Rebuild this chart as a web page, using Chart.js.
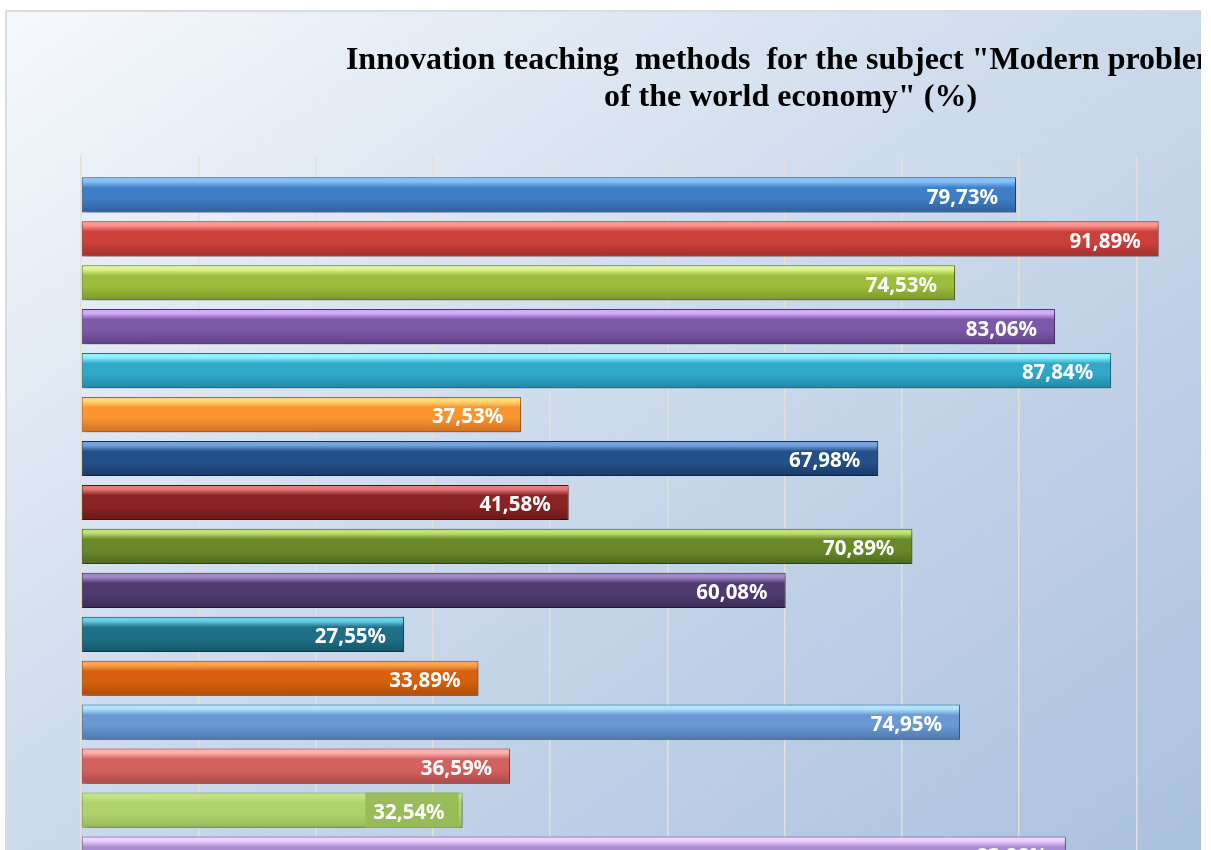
<!DOCTYPE html>
<html>
<head>
<meta charset="utf-8">
<script src="https://cdn.jsdelivr.net/npm/chart.js@4/dist/chart.umd.min.js"></script>
<style>
  html, body { margin: 0; padding: 0; background: #fff; overflow: hidden; }
  #panel {
    position: absolute; left: 5px; top: 10px; width: 1196px; height: 840px;
    border-top: 2px solid #dcdcdc; border-left: 2px solid #dcdcdc;
    box-sizing: border-box; overflow: hidden;
    background: linear-gradient(to bottom right, #f6f9fc 0%, #cbd9eb 50%, #aac1de 100%);
  }
  #wrap { position: absolute; left: -2px; top: -2px; width: 1495px; height: 890px; }
</style>
</head>
<body>
<div id="panel"><div id="wrap"><canvas id="chart"></canvas></div></div>
<script>
const categories = ['1', '2', '3', '4', '5', '6', '7', '8', '9', '10', '11', '12', '13', '14', '15', '16'];
const values = [79.73, 91.89, 74.53, 83.06, 87.84, 37.53, 67.98, 41.58, 70.89, 60.08, 27.55, 33.89, 74.95, 36.59, 32.54, 83.98];
const labels = ['79,73%', '91,89%', '74,53%', '83,06%', '87,84%', '37,53%', '67,98%', '41,58%', '70,89%', '60,08%', '27,55%', '33,89%', '74,95%', '36,59%', '32,54%', '83,98%'];
// highlight, base, shade, border for each bar
const barTops = ['#86c2f8', '#ff9490', '#def590', '#d2acf8', '#8ef2ff', '#ffd878', '#74a4e0', '#e87a7a', '#c0e078', '#a288c8', '#6ad0e8', '#ffa454', '#b0e4ff', '#ffb0ae', '#c2e284', '#f0d2ff'];
const barMids = ['#3f7dc6', '#cc403c', '#9dbd3c', '#7c58a8', '#30a8c8', '#f8952e', '#24508a', '#8a2424', '#6a8a2a', '#503a70', '#1e7088', '#d8600c', '#6a98d2', '#d26260', '#b0d26c', '#aa8cd2'];
const barBottoms = ['#2f609c', '#a0302c', '#7a982a', '#5e4088', '#2088a6', '#d07020', '#1a3a66', '#6a1818', '#4f6820', '#3c2c58', '#155868', '#b04c08', '#4e78ae', '#b04846', '#98b85a', '#8a6ab0'];
const barBorders = ['#2a5384', '#8a2a26', '#6a8424', '#4e3672', '#1a7290', '#b86418', '#15305a', '#561414', '#43581a', '#30244a', '#104a58', '#9a4206', '#42689a', '#9a3e3c', '#88a64e', '#7a5ea0'];
const labelBoxes = [null, null, null, null, null, null, null, null, null, null, null, null, null, null, 'rgba(150,186,86,0.9)', null];

function barFill(ctx) {
  const chart = ctx.chart;
  const i = ctx.dataIndex;
  if (!chart.chartArea || !chart.scales.y) return barMids[i];
  const y = chart.scales.y.getPixelForValue(i);
  const h = chart.scales.y.height / categories.length * 0.8;
  const g = chart.ctx.createLinearGradient(0, y - h / 2, 0, y + h / 2);
  g.addColorStop(0, barTops[i]);
  g.addColorStop(0.12, barTops[i]);
  g.addColorStop(0.3, barMids[i]);
  g.addColorStop(0.6, barMids[i]);
  g.addColorStop(1, barBottoms[i]);
  return g;
}

const shadowPlugin = {
  id: 'shadow',
  beforeDatasetDraw(chart) {
    const c = chart.ctx;
    c.save();
    c.shadowColor = 'rgba(0,0,0,0.4)';
    c.shadowBlur = 5;
    c.shadowOffsetX = 2;
    c.shadowOffsetY = 3;
  },
  afterDatasetDraw(chart) {
    chart.ctx.restore();
  }
};

const labelPlugin = {
  id: 'barLabels',
  afterDatasetsDraw(chart) {
    const c = chart.ctx;
    const meta = chart.getDatasetMeta(0);
    c.save();
    c.font = 'bold 20.5px "Noto Sans", sans-serif';
    c.textAlign = 'right';
    c.textBaseline = 'middle';
    meta.data.forEach((bar, i) => {
      const right = bar.x - 18;
      const w = c.measureText(labels[i]).width;
      if (labelBoxes[i]) {
        c.fillStyle = labelBoxes[i];
        c.fillRect(right - w - 8, bar.y - bar.height / 2, w + 22, bar.height);
      }
      c.fillStyle = '#ffffff';
      c.fillText(labels[i], right, bar.y + 3);
    });
    c.restore();
  }
};

new Chart(document.getElementById('chart'), {
  type: 'bar',
  data: {
    labels: categories,
    datasets: [{
      data: values,
      backgroundColor: barFill,
      borderColor: barBorders,
      borderWidth: 1,
      borderSkipped: false,
      barPercentage: 0.8,
      categoryPercentage: 1
    }]
  },
  options: {
    indexAxis: 'y',
    responsive: true,
    maintainAspectRatio: false,
    animation: false,
    layout: { padding: { left: 76, right: 0, top: 0, bottom: 24 } },
    plugins: {
      legend: { display: false },
      tooltip: { enabled: false },
      title: {
        display: true,
        text: ['Innovation teaching  methods  for the subject "Modern problems', 'of the world economy" (%)'],
        color: '#000',
        font: { family: '"Liberation Serif", "Times New Roman", serif', size: 32, weight: 'bold', lineHeight: 1.17 },
        padding: { top: 32, bottom: 39 }
      }
    },
    scales: {
      x: {
        position: 'top',
        min: 0,
        max: 121,
        ticks: { display: false, stepSize: 10 },
        grid: { color: 'rgba(228,224,214,0.95)', lineWidth: 1.5, tickLength: 17 },
        border: { display: false }
      },
      y: {
        display: false
      }
    }
  },
  plugins: [shadowPlugin, labelPlugin]
});
</script>
</body>
</html>
